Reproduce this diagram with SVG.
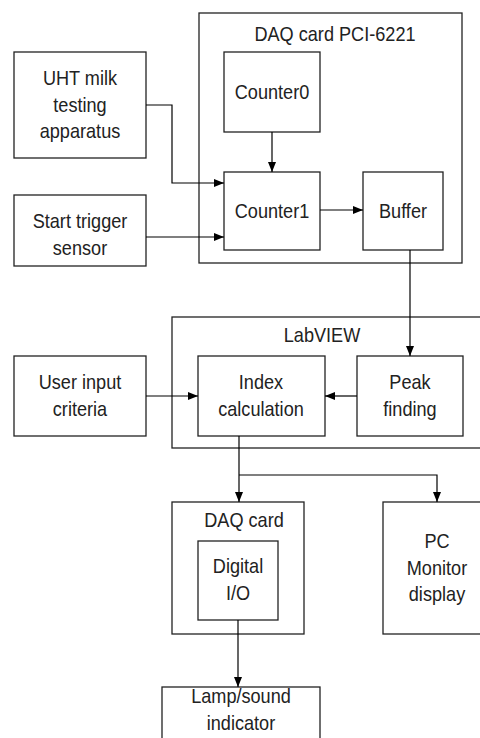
<svg xmlns="http://www.w3.org/2000/svg" width="480" height="738" viewBox="0 0 480 738">
<defs>
<marker id="ah" viewBox="0 0 10 8" refX="10" refY="4" markerWidth="10" markerHeight="8" markerUnits="userSpaceOnUse" orient="auto">
<path d="M0,0 L10,4 L0,8 z" fill="#000"/>
</marker>
<style>
rect{fill:#fff;stroke:#222;stroke-width:1.3}
text{font-family:"Liberation Sans",Arial,sans-serif;font-size:19.5px;fill:#222;text-anchor:middle}
.c path{fill:none;stroke:#000;stroke-width:1.2}
</style>
</defs>
<rect x="0" y="0" width="480" height="738" style="stroke:none"/>
<g id="daq1"><rect x="199" y="13" width="263" height="250"/><text transform="scale(0.93,1)" x="360.22" y="41">DAQ card PCI-6221</text></g>
<g id="labview"><rect x="172" y="317" width="320" height="131"/><text transform="scale(0.93,1)" x="346.24" y="342">LabVIEW</text></g>
<g id="daq2"><rect x="172" y="502" width="132" height="132"/><text transform="scale(0.93,1)" x="262.37" y="527">DAQ card</text></g>
<g id="uht"><rect x="14" y="52" width="132" height="106"/><text transform="scale(0.93,1)" x="86.02" y="85">UHT milk</text><text transform="scale(0.93,1)" x="86.02" y="112">testing</text><text transform="scale(0.93,1)" x="86.02" y="138">apparatus</text></g>
<g id="start"><rect x="14" y="195" width="132" height="71"/><text transform="scale(0.93,1)" x="86.02" y="228">Start trigger</text><text transform="scale(0.93,1)" x="86.02" y="255">sensor</text></g>
<g id="counter0"><rect x="224" y="52" width="96" height="80"/><text transform="scale(0.93,1)" x="292.47" y="99">Counter0</text></g>
<g id="counter1"><rect x="224" y="172" width="96" height="78"/><text transform="scale(0.93,1)" x="292.47" y="218">Counter1</text></g>
<g id="buffer"><rect x="363" y="172" width="80" height="78"/><text transform="scale(0.93,1)" x="433.33" y="218">Buffer</text></g>
<g id="user"><rect x="14" y="356" width="132" height="80"/><text transform="scale(0.93,1)" x="86.02" y="389">User input</text><text transform="scale(0.93,1)" x="86.02" y="416">criteria</text></g>
<g id="index"><rect x="198" y="356" width="127" height="80"/><text transform="scale(0.93,1)" x="280.65" y="389">Index</text><text transform="scale(0.93,1)" x="280.65" y="416">calculation</text></g>
<g id="peak"><rect x="357" y="356" width="106" height="80"/><text transform="scale(0.93,1)" x="440.86" y="389">Peak</text><text transform="scale(0.93,1)" x="440.86" y="416">finding</text></g>
<g id="digital"><rect x="198" y="541" width="80" height="79"/><text transform="scale(0.93,1)" x="255.91" y="573">Digital</text><text transform="scale(0.93,1)" x="255.91" y="600">I/O</text></g>
<g id="pc"><rect x="383" y="502" width="120" height="132"/><text transform="scale(0.93,1)" x="469.89" y="548">PC</text><text transform="scale(0.93,1)" x="469.89" y="575">Monitor</text><text transform="scale(0.93,1)" x="469.89" y="601">display</text></g>
<g id="lamp"><rect x="162" y="687" width="158" height="70"/><text transform="scale(0.93,1)" x="259.14" y="703">Lamp/sound</text><text transform="scale(0.93,1)" x="259.14" y="730">indicator</text></g>
<g class="c" id="connectors">
<path d="M146,105 H172 V183 H224" marker-end="url(#ah)"/>
<path d="M146,237 H224" marker-end="url(#ah)"/>
<path d="M272,132 V172" marker-end="url(#ah)"/>
<path d="M320,210 H363" marker-end="url(#ah)"/>
<path d="M410,250 V356" marker-end="url(#ah)"/>
<path d="M146,396 H198" marker-end="url(#ah)"/>
<path d="M357,396 H325" marker-end="url(#ah)"/>
<path d="M239,436 V502" marker-end="url(#ah)"/>
<path d="M239,475 H437 V502" marker-end="url(#ah)"/>
<path d="M238,620 V687" marker-end="url(#ah)"/>
</g>
</svg>
